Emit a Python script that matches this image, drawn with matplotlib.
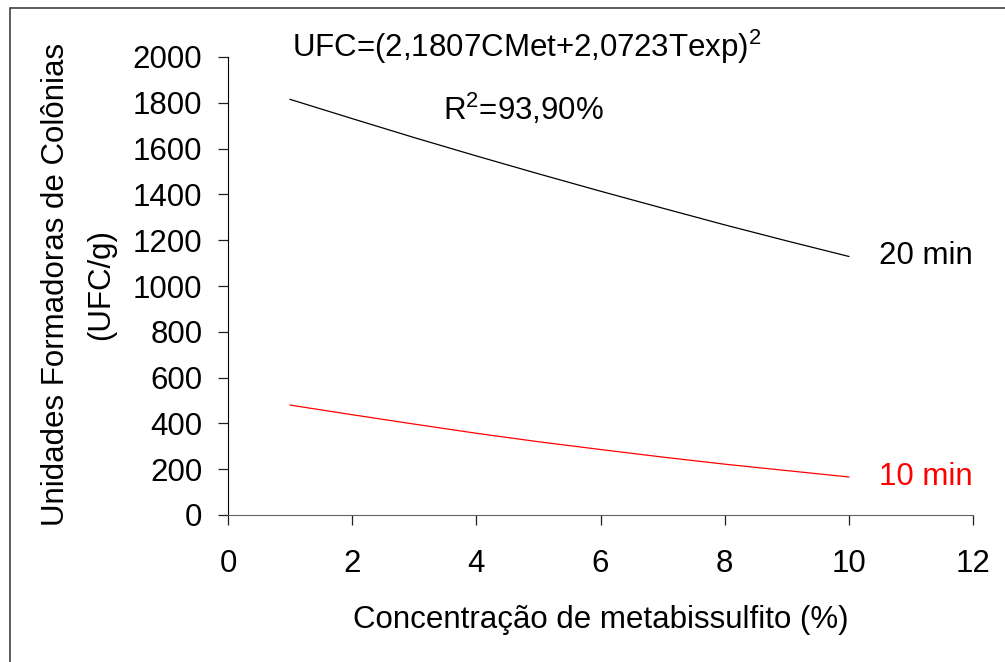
import matplotlib
matplotlib.use('Agg')
from matplotlib import pyplot as plt
from matplotlib.patches import Rectangle

plt.rcParams['font.family'] = ['Liberation Sans', 'DejaVu Sans']
plt.rcParams['mathtext.fontset'] = 'custom'
plt.rcParams['mathtext.rm'] = 'Liberation Sans'

# concentracao de metabissulfito (%)
conc = [1, 2, 3, 4, 5, 6, 7, 8, 9, 10]
# UFC/g
ufc_20min = [1815, 1731, 1648, 1568, 1490, 1414, 1340, 1267, 1197, 1129]
ufc_10min = [480, 438, 397, 357, 320, 286, 253, 222, 194, 166]

xticks = [0, 2, 4, 6, 8, 10, 12]
yticks = [0, 200, 400, 600, 800, 1000, 1200, 1400, 1600, 1800, 2000]

fs = 22.5

fig = plt.figure(figsize=(10.05, 6.62), dpi=100)
ax = fig.add_axes([228/1005, 1-515/662, (973-228)/1005, (515-57)/662])

ax.plot(conc, ufc_20min, color='black', lw=0.9)
ax.plot(conc, ufc_10min, color='red', lw=0.9)

ax.set_xlim(0, 12)
ax.set_ylim(0, 2000)
ax.set_xticks(xticks)
ax.set_yticks(yticks)
ax.tick_params(direction='out', length=7.5, width=0.9, labelsize=fs, colors='#202020',
               labelcolor='black')
ax.tick_params(axis='x', pad=17)
ax.tick_params(axis='y', pad=11)
for s in ['top', 'right']:
    ax.spines[s].set_visible(False)
ax.spines['left'].set_color('#000000')
ax.spines['bottom'].set_color('#606060')

ax.set_xlabel('Concentração de metabissulfito (%)', fontsize=fs, labelpad=19)

fig.text(56/1005, 1-284/662, 'Unidades Formadoras de Colônias', rotation=90,
         fontsize=fs, ha='center', va='center')
fig.text(101/1005, 1-284/662, '(UFC/g)', rotation=90,
         fontsize=fs, ha='center', va='center')

fig.text(292/1005, 1-57/662, r'UFC=(2,1807CMet+2,0723Texp)$^2$', fontsize=fs,
         ha='left', va='baseline')
fig.text(443/1005, 1-120/662, r'R$^2$=93,90%', fontsize=fs,
         ha='left', va='baseline')
ax.text(10.48, 1129, '20 min', fontsize=fs, ha='left', va='center', color='black')
ax.text(10.48, 166, '10 min', fontsize=fs, ha='left', va='center', color='red')

# outer frame
fig.patches.append(Rectangle((10/1005, -0.1), 1.2, 1-8/662+0.1,
                             transform=fig.transFigure, fill=False,
                             edgecolor='#404040', lw=1.2))

fig.savefig('out.png', dpi=100)
